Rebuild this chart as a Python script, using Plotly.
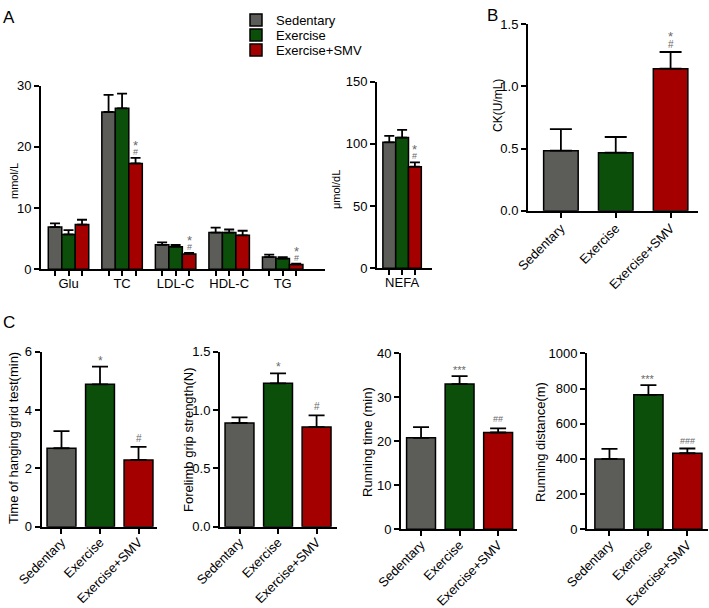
import plotly.graph_objects as go

W, H = 709, 608
FONT = "Liberation Sans, Arial, sans-serif"

groups = ["Sedentary", "Exercise", "Exercise+SMV"]
colors = ["#5C5C58", "#0B4F0B", "#A50000"]

# Panel A - serum lipids (mmol/L)
lipid_categories = ["Glu", "TC", "LDL-C", "HDL-C", "TG"]
lipid_sed = [6.9, 25.7, 4.0, 6.0, 2.0]
lipid_sed_err = [0.6, 2.8, 0.4, 0.8, 0.4]
lipid_exe = [5.7, 26.3, 3.7, 6.0, 1.75]
lipid_exe_err = [0.7, 2.4, 0.3, 0.5, 0.25]
lipid_smv = [7.3, 17.3, 2.5, 5.55, 0.8]
lipid_smv_err = [0.8, 0.9, 0.2, 0.75, 0.12]
lipid_smv_star = ["", "*", "*", "", "*"]
lipid_smv_hash = ["", "#", "#", "", "#"]

# Panel A - NEFA (umol/dL)
nefa_categories = ["NEFA"]
nefa_sed = [101.3]
nefa_sed_err = [5.2]
nefa_exe = [105.1]
nefa_exe_err = [6.2]
nefa_smv = [81.7]
nefa_smv_err = [3.5]
nefa_smv_star = ["*"]
nefa_smv_hash = ["#"]

# Panel B - CK
ck_mean = [0.483, 0.467, 1.143]
ck_err = [0.174, 0.126, 0.134]
ck_star = ["", "", "*"]
ck_hash = ["", "", "#"]

# Panel C
grid_mean = [2.69, 4.88, 2.29]
grid_err = [0.59, 0.61, 0.45]
grid_star = ["", "*", ""]
grid_hash = ["", "", "#"]
grip_mean = [0.889, 1.229, 0.854]
grip_err = [0.048, 0.085, 0.10]
grip_star = ["", "*", ""]
grip_hash = ["", "", "#"]
time_mean = [20.8, 33.0, 22.0]
time_err = [2.4, 1.8, 0.95]
time_star = ["", "***", ""]
time_hash = ["", "", "##"]
dist_mean = [400, 764, 432]
dist_err = [57, 55, 27]
dist_star = ["", "***", ""]
dist_hash = ["", "", "###"]


def xdom(a, b):
    return [a / W, b / W]


def ydom(top, bottom):
    return [1 - bottom / H, 1 - top / H]


fig = go.Figure()
layout = {}
annotations = []

AX_LINE = dict(showline=True, linecolor="black", linewidth=2, ticks="outside",
               ticklen=5, tickwidth=2, tickcolor="black", showgrid=False,
               zeroline=False, automargin=False,
               tickfont=dict(family=FONT, size=13, color="black"))


def add_axes(idx, xd, yd, xrange, yrange, dtick, fmt=None, xkw=None):
    xn = "xaxis" if idx == 1 else f"xaxis{idx}"
    yn = "yaxis" if idx == 1 else f"yaxis{idx}"
    xa = dict(AX_LINE, domain=xd, range=xrange, anchor=f"y{'' if idx == 1 else idx}",
              fixedrange=True)
    if xkw:
        xa.update(xkw)
    ya = dict(AX_LINE, domain=yd, range=yrange, dtick=dtick, tick0=0,
              anchor=f"x{'' if idx == 1 else idx}", fixedrange=True)
    if fmt:
        ya["tickformat"] = fmt
    layout[xn] = xa
    layout[yn] = ya


def err(arr, w):
    return dict(type="data", array=arr, arrayminus=[0] * len(arr), symmetric=False,
                color="black", thickness=1.8, width=w, visible=True)


def sig(xref, yref, xs, tops, texts, shift, size, col="#6A6A6A"):
    for x, t, s in zip(xs, tops, texts):
        if s:
            annotations.append(dict(x=x, y=t, xref=xref, yref=yref, text=s, showarrow=False,
                                    yanchor="bottom", yshift=shift,
                                    font=dict(family=FONT, size=size, color=col)))


# ---------- Panel A main (grouped, numeric x) ----------
bw_a = 0.252
lipid_x = list(range(len(lipid_categories)))
a_series = [(lipid_sed, lipid_sed_err), (lipid_exe, lipid_exe_err), (lipid_smv, lipid_smv_err)]
for k, (vals, e) in enumerate(a_series):
    fig.add_trace(go.Bar(x=lipid_x, y=vals, width=bw_a, offset=(k - 1.5) * bw_a,
                         marker=dict(color=colors[k], line=dict(color="black", width=1.5)),
                         error_y=err(e, 5), name=groups[k],
                         legend=["legend", "legend2", "legend3"][k], xaxis="x", yaxis="y"))
a_tickvals, a_ticktext = [], []
for i, c in enumerate(lipid_categories):
    for k in range(3):
        a_tickvals.append(i + (k - 1) * bw_a)
        a_ticktext.append(c if k == 1 else "")
add_axes(1, xdom(41, 325), ydom(85.7, 269.3), [-0.514, 4.79], [0, 30], 10,
         xkw=dict(tickvals=a_tickvals, ticktext=a_ticktext, ticklen=5, ticklabelstandoff=-4))
smv_x = [i + bw_a for i in lipid_x]
smv_top = [v + e for v, e in zip(lipid_smv, lipid_smv_err)]
sig("x", "y", smv_x, smv_top, lipid_smv_hash, -1, 9)
sig("x", "y", smv_x, smv_top, lipid_smv_star, 3, 13)

# ---------- Panel A NEFA ----------
bw_n = 0.24
nefa_x = [0]
n_series = [(nefa_sed, nefa_sed_err), (nefa_exe, nefa_exe_err), (nefa_smv, nefa_smv_err)]
for k, (vals, e) in enumerate(n_series):
    fig.add_trace(go.Bar(x=nefa_x, y=vals, width=bw_n, offset=(k - 1.5) * bw_n,
                         marker=dict(color=colors[k], line=dict(color="black", width=1.5)),
                         error_y=err(e, 5), showlegend=False, xaxis="x2", yaxis="y2"))
n_tickvals, n_ticktext = [], []
for i, c in enumerate(nefa_categories):
    for k in range(3):
        n_tickvals.append(i + (k - 1) * bw_n)
        n_ticktext.append(c if k == 1 else "")
add_axes(2, xdom(377, 432), ydom(81.7, 268.3), [-0.47, 0.56], [0, 150], 50,
         xkw=dict(tickvals=n_tickvals, ticktext=n_ticktext, ticklabelstandoff=-4))
nsx = [i + bw_n for i in nefa_x]
nst = [v + e for v, e in zip(nefa_smv, nefa_smv_err)]
sig("x2", "y2", nsx, nst, nefa_smv_hash, -1, 9)
sig("x2", "y2", nsx, nst, nefa_smv_star, 3, 13)

# ---------- Single-series panels ----------
def single(idx, means, errs, xd, yd, xr, yr, dtick, bw, capw, fmt=None, standoff=-2):
    xa = "x" + str(idx)
    ya = "y" + str(idx)
    fig.add_trace(go.Bar(x=groups, y=means, width=bw,
                         marker=dict(color=colors, line=dict(color="black", width=1.5)),
                         error_y=err(errs, capw), showlegend=False, xaxis=xa, yaxis=ya))
    add_axes(idx, xd, yd, xr, yr, dtick, fmt,
             xkw=dict(type="category", tickangle=-45, ticklabelstandoff=standoff))
    return xa, ya, [m + e for m, e in zip(means, errs)]


xa, ya, tops = single(3, ck_mean, ck_err, xdom(528, 698), ydom(24.3, 210.7),
                      [-0.60, 2.50], [0, 1.5], 0.5, 0.63, 11, ".1f")
sig(xa, ya, groups, tops, ck_hash, 0, 10)
sig(xa, ya, groups, tops, ck_star, 6, 13)

xa, ya, tops = single(4, grid_mean, grid_err, xdom(41.7, 157), ydom(351.7, 526.7),
                      [-0.514, 2.48], [0, 6], 2, 0.75, 8, standoff=-4)
sig(xa, ya, groups, tops, grid_star, -3, 12)
sig(xa, ya, groups, tops, grid_hash, 1, 10)

xa, ya, tops = single(5, grip_mean, grip_err, xdom(220, 337), ydom(351.7, 526.7),
                      [-0.506, 2.53], [0, 1.5], 0.5, 0.75, 8, ".1f", standoff=-4)
sig(xa, ya, groups, tops, grip_star, -3, 12)
sig(xa, ya, groups, tops, grip_hash, 1, 10)

xa, ya, tops = single(6, time_mean, time_err, xdom(401, 517), ydom(353.3, 529.3),
                      [-0.52, 2.49], [0, 40], 10, 0.75, 8, standoff=-4)
sig(xa, ya, groups, tops, time_star, -2, 11)
sig(xa, ya, groups, tops, time_hash, 2, 9)

xa, ya, tops = single(7, dist_mean, dist_err, xdom(587, 708), ydom(353.3, 529.3),
                      [-0.577, 2.53], [0, 1000], 200, 0.75, 8, standoff=-4)
sig(xa, ya, groups, tops, dist_star, -2, 11)
sig(xa, ya, groups, tops, dist_hash, 1, 9)

# ---------- Axis titles & panel letters ----------
def ptext(x, y, text, size, angle=0, xanchor="center", yanchor="middle"):
    annotations.append(dict(x=x / W, y=1 - y / H, xref="paper", yref="paper", text=text,
                            showarrow=False, textangle=angle, xanchor=xanchor,
                            yanchor=yanchor, font=dict(family=FONT, size=size, color="black")))


ptext(14, 181, "mmol/L", 11, -90)
ptext(336, 190, "μmol/dL", 11, -90)
ptext(498, 106, "CK(U/mL)", 12, -90)
ptext(13, 438, "Time of hanging grid test(min)", 13, -90)
ptext(188, 439, "Forelimb grip strength(N)", 13, -90)
ptext(367, 442, "Running time (min)", 13, -90)
ptext(540, 442, "Running distance(m)", 13, -90)
ptext(1, 18, "A", 17, xanchor="left")
ptext(485, 16, "B", 17, xanchor="left")
ptext(1, 322, "C", 17, xanchor="left")

legend_style = dict(font=dict(family=FONT, size=13, color="black"), bgcolor="rgba(0,0,0,0)",
                    xanchor="left", yanchor="middle", borderwidth=0, itemwidth=30)
layout["legend"] = dict(legend_style, x=236 / W, y=1 - 20 / H)
layout["legend2"] = dict(legend_style, x=236 / W, y=1 - 35 / H)
layout["legend3"] = dict(legend_style, x=236 / W, y=1 - 50 / H)

fig.update_layout(template="none", width=W, height=H, margin=dict(l=0, r=0, t=0, b=0, autoexpand=False),
                  paper_bgcolor="white", plot_bgcolor="white", barmode="overlay",
                  annotations=annotations, font=dict(family=FONT, color="black"),
                  **layout)
fig.write_html("out.html", config={"displayModeBar": False},
               post_script="document.body.style.margin='0';document.body.style.overflow='hidden';")
